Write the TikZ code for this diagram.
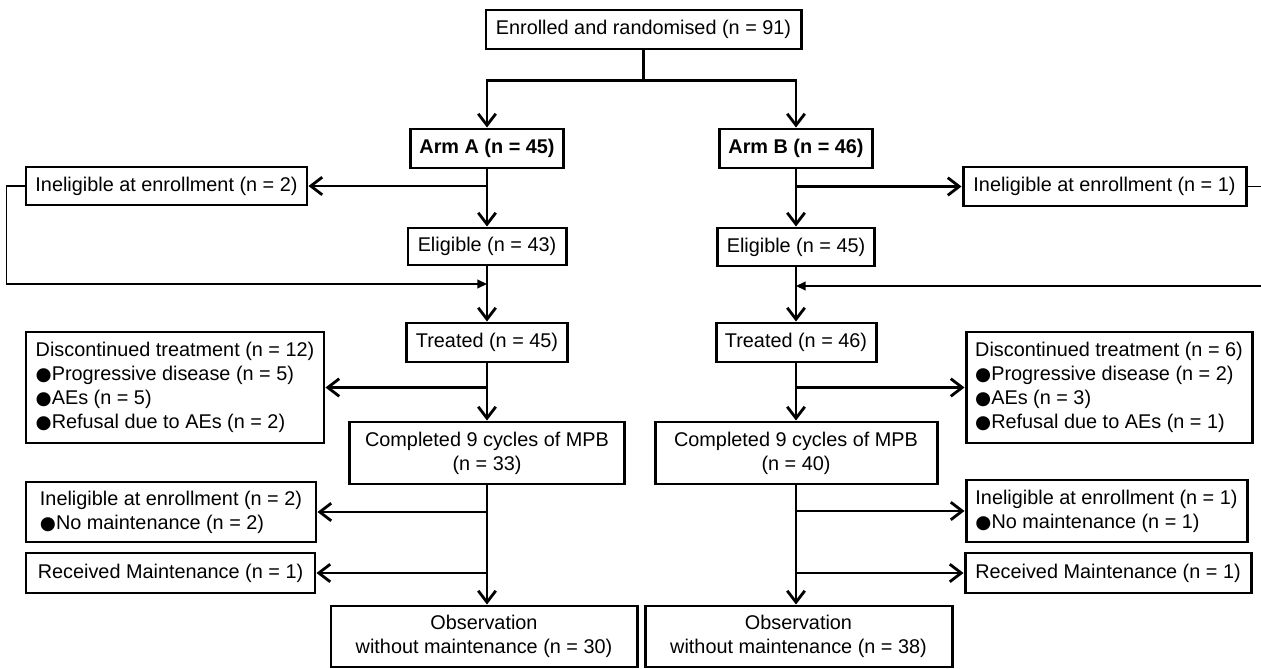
\documentclass[tikz,border=0pt]{standalone}
\usepackage{fontspec}
\setmainfont{Liberation Sans}
\newfontfamily\symf{DejaVu Sans}
\usetikzlibrary{positioning,arrows.meta,calc}
\newcommand{\bul}{{\symf\fontsize{10.5}{13.6}\selectfont ●}}
\tikzset{
  fbox/.style={draw,line width=1.7pt,inner xsep=3pt,inner ysep=2pt,align=center},
  lbox/.style={fbox,align=left},
  sz/.style 2 args={minimum width=#1*0.02cm,minimum height=#2*0.02cm},
  flow/.style={-{Straight Barb[length=6.5pt,width=10pt]},line width=1.6pt},
  trunk/.style={line width=1.6pt},
  back/.style={-{Triangle[length=5.5pt,width=5pt]},line width=0.8pt}, % loop back to main line
}
\begin{document}
\begin{tikzpicture}[x=0.02cm,y=-0.02cm,font=\fontsize{11.3}{13.6}\selectfont]
  \useasboundingbox (0,0) rectangle (1261,669);
  % top and arms
  \node[fbox,sz={315}{39}] (enrol) at (643.5,29.5) {Enrolled and randomised (n = 91)};
  \node[fbox,sz={153}{39},font=\fontsize{11.3}{13.6}\selectfont\bfseries] (armA) at (487,148.5) {Arm A (n = 45)};
  \node[fbox,sz={153}{39},font=\fontsize{11.3}{13.6}\selectfont\bfseries] (armB) at (796,148.5) {Arm B (n = 46)};
  % arm A column
  \node[fbox,sz={281}{38}] (inelA) at (166.5,186) {Ineligible at enrollment (n = 2)};
  \node[fbox,sz={158}{37}] (eligA) at (487,246.5) {Eligible (n = 43)};
  \node[fbox,sz={161}{39}] (treatA) at (487,342.5) {Treated (n = 45)};
  \node[lbox,sz={298}{111}] (discA) at (175,387.5)
    {Discontinued treatment (n = 12)\\\bul Progressive disease (n = 5)\\\bul AEs (n = 5)\\\bul Refusal due to AEs (n = 2)};
  \node[fbox,sz={275}{62}] (compA) at (487,453) {Completed 9 cycles of MPB\\(n = 33)};
  \node[lbox,sz={290}{60}] (inel2A) at (171,512) {Ineligible at enrollment (n = 2)\\\bul No maintenance (n = 2)};
  \node[lbox,sz={289}{40}] (recA) at (170.5,573) {Received Maintenance (n = 1)};
  \node[fbox,sz={306}{61}] (obsA) at (484,636.5) {Observation\\without maintenance (n = 30)};
  % arm B column
  \node[fbox,sz={283}{39}] (inelB) at (1104.5,186.5) {Ineligible at enrollment (n = 1)};
  \node[fbox,sz={157}{38}] (eligB) at (796,247) {Eligible (n = 45)};
  \node[fbox,sz={160}{39}] (treatB) at (796,342.5) {Treated (n = 46)};
  \node[lbox,sz={286}{111}] (discB) at (1109,387.5)
    {Discontinued treatment (n = 6)\\\bul Progressive disease (n = 2)\\\bul AEs (n = 3)\\\bul Refusal due to AEs (n = 1)};
  \node[fbox,sz={282}{62}] (compB) at (796,453) {Completed 9 cycles of MPB\\(n = 40)};
  \node[lbox,sz={281}{62}] (inel2B) at (1106.5,511) {Ineligible at enrollment (n = 1)\\\bul No maintenance (n = 1)};
  \node[lbox,sz={286}{40}] (recB) at (1108,573) {Received Maintenance (n = 1)};
  \node[fbox,sz={307}{61}] (obsB) at (798.5,636.5) {Observation\\without maintenance (n = 38)};

  % randomisation split
  \draw[trunk] (enrol.south) -- ++(0,30) coordinate (split);
  \draw[flow] (split) -| (armA.north);
  \draw[flow] (split) -| (armB.north);
  % arm A flow
  \draw[flow] (armA) -- (eligA);
  \draw[flow] (armA.south |- inelA.east) -- (inelA.east);
  \draw[back] (inelA.west) -- ++(-18,0) |- (eligA.south |- 0,284);
  \draw[flow] (eligA) -- (treatA);
  \draw[flow] (treatA) -- (compA);
  \draw[flow] (treatA.south |- discA.east) -- (discA.east);
  \draw[flow] (compA.south) -- (compA.south |- obsA.north);
  \draw[flow] (compA.south |- inel2A.east) -- (inel2A.east);
  \draw[flow] (compA.south |- recA.east) -- (recA.east);
  % arm B flow
  \draw[flow] (armB) -- (eligB);
  \draw[flow] (armB.south |- inelB.west) -- (inelB.west);
  \draw[back] (inelB.east) -- ++(14,0) |- (eligB.south |- 0,286);
  \draw[flow] (eligB) -- (treatB);
  \draw[flow] (treatB) -- (compB);
  \draw[flow] (treatB.south |- discB.west) -- (discB.west);
  \draw[flow] (compB.south) -- (compB.south |- obsB.north);
  \draw[flow] (compB.south |- inel2B.west) -- (inel2B.west);
  \draw[flow] (compB.south |- recB.west) -- (recB.west);
\end{tikzpicture}
\end{document}
